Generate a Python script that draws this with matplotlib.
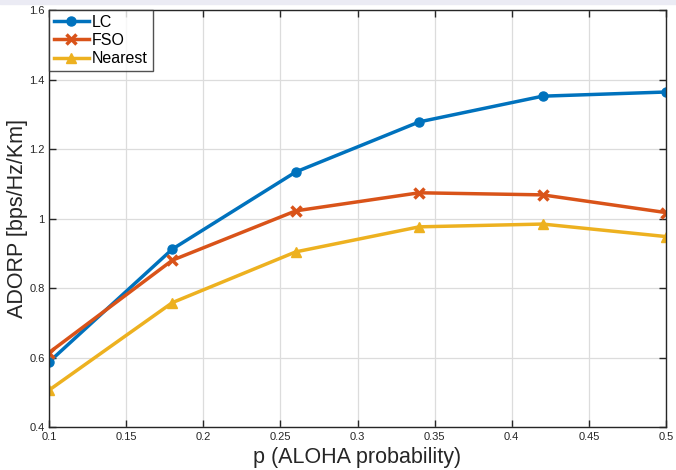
import matplotlib
matplotlib.use("Agg")
import matplotlib.pyplot as plt
from matplotlib.patches import Rectangle

p = [0.1, 0.18, 0.26, 0.34, 0.42, 0.5]
lc = [0.587, 0.912, 1.134, 1.278, 1.352, 1.364]
fso = [0.614, 0.880, 1.022, 1.074, 1.068, 1.017]
nearest = [0.506, 0.758, 0.904, 0.976, 0.984, 0.948]

xticks = [0.1, 0.15, 0.2, 0.25, 0.3, 0.35, 0.4, 0.45, 0.5]
xticklabels = ["0.1", "0.15", "0.2", "0.25", "0.3", "0.35", "0.4", "0.45", "0.5"]
yticks = [0.4, 0.6, 0.8, 1.0, 1.2, 1.4, 1.6]
yticklabels = ["0.4", "0.6", "0.8", "1", "1.2", "1.4", "1.6"]

plt.rcParams['font.family'] = ['Liberation Sans', 'DejaVu Sans']

fig = plt.figure(figsize=(6.76, 4.70), dpi=100)
fig.patches.append(Rectangle((0, 466/470), 1, 4/470, transform=fig.transFigure,
                             color='#ebebf4', zorder=0))
ax = fig.add_axes([49/676, 43/470, 617/676, 417/470])

ax.plot(p, lc, '-o', color='#0072BD', lw=2.5, ms=6.5, label='LC')
ax.plot(p, fso, '-x', color='#D95319', lw=2.5, ms=6.5, mew=2.5, label='FSO')
ax.plot(p, nearest, '-^', color='#EDB120', lw=2.5, ms=7.5, label='Nearest')

ax.set_xlim(0.1, 0.5)
ax.set_ylim(0.4, 1.6)
ax.set_xticks(xticks)
ax.set_xticklabels(xticklabels)
ax.set_yticks(yticks)
ax.set_yticklabels(yticklabels)
ax.grid(True, color='#dcdcdc', lw=0.9)
ax.set_axisbelow(True)
ax.tick_params(direction='in', length=5, width=1, labelsize=8, colors='#262626',
               top=True, right=True)
ax.tick_params(axis='y', pad=3)
for s in ax.spines.values():
    s.set_color('#262626')
    s.set_linewidth(1)

ax.set_xlabel('p (ALOHA probability)', fontsize=15.5, color='#262626', labelpad=4)
ax.set_ylabel('ADORP [bps/Hz/Km]', fontsize=15.5, color='#262626', labelpad=1)

leg = ax.legend(loc='upper left', fontsize=11.5, frameon=True, fancybox=False,
                borderaxespad=0, handlelength=2.2, handletextpad=0.2,
                borderpad=0.3, labelspacing=0.2)
leg.get_frame().set_edgecolor('#262626')
leg.get_frame().set_linewidth(1)

fig.savefig('out.png', dpi=100)
